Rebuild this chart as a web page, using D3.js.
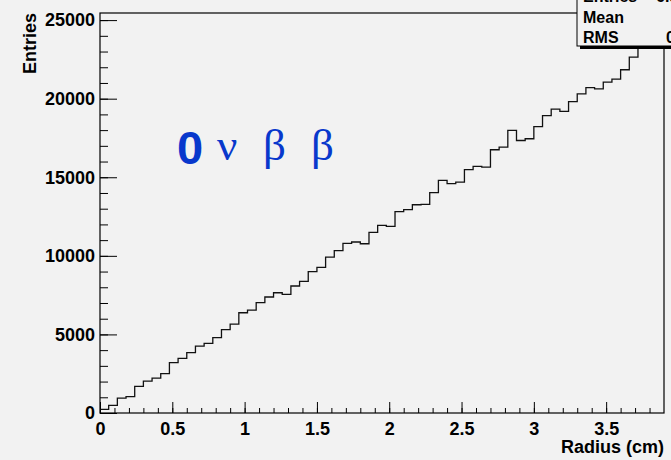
<!DOCTYPE html>
<html>
<head>
<meta charset="utf-8">
<script src="https://cdn.jsdelivr.net/npm/d3@7"></script>
<style>
  html, body { margin: 0; padding: 0; background: #f2f2f2; }
  svg { display: block; }
  text { font-family: "Liberation Sans", Arial, sans-serif; font-weight: bold; }
</style>
</head>
<body>
<div id="chart"></div>
<script>
// histogram of event radius, 65 bins of 0.06 cm from 0 to 3.9
const binLow = 0;
const binWidth = 0.06;
const counts = [
  230, 490, 950, 1040, 1700, 2030, 2220, 2500, 3200, 3480,
  3840, 4260, 4430, 4790, 5300, 5660, 6380, 6550, 7020, 7380,
  7650, 7550, 8080, 8380, 8990, 9270, 9920, 10330, 10790, 10880,
  10770, 11490, 11940, 11870, 12810, 12940, 13250, 13270, 14020, 14800,
  14590, 14690, 15480, 15690, 15650, 16750, 16920, 17980, 17340, 17450,
  18220, 18920, 19330, 19190, 19810, 20310, 20700, 20630, 21050, 21240,
  21840, 22640, 23200, 23700, 24240
];
const xTicks = [0, 0.5, 1, 1.5, 2, 2.5, 3, 3.5];
const yTicks = [0, 5000, 10000, 15000, 20000, 25000];
const statLabels = ["Entries", "Mean", "RMS"];
const statValues = ["6.5e+05", "2.589", "0.9127"];
const xTitle = "Radius (cm)";
const yTitle = "Entries";

const width = 671, height = 460;
const mLeft = 100, mRight = 664, mTop = 13, mBottom = 413;

const svg = d3.select("#chart").append("svg")
  .attr("width", width)
  .attr("height", height);

svg.append("rect").attr("width", width).attr("height", height).attr("fill", "#f2f2f2");

let xMax = binLow + counts.length * binWidth;
let yMax = d3.max(counts) * 1.05;

let x = d3.scaleLinear().domain([binLow, xMax]).range([mLeft, mRight]);
let y = d3.scaleLinear().domain([0, yMax]).range([mBottom, mTop]);

// minor ticks
svg.append("g")
  .attr("transform", "translate(0," + mBottom + ")")
  .call(d3.axisBottom(x).tickValues(d3.range(0, 39).map(i => i / 10)).tickSize(-5).tickFormat(""))
  .call(g => g.select(".domain").remove());
svg.append("g")
  .attr("transform", "translate(" + mLeft + ",0)")
  .call(d3.axisLeft(y).tickValues(d3.range(0, 26).map(i => i * 1000)).tickSize(-8).tickFormat(""))
  .call(g => g.select(".domain").remove());

// major ticks + labels
let xAxis = svg.append("g")
  .attr("transform", "translate(0," + mBottom + ")")
  .call(d3.axisBottom(x).tickValues(xTicks).tickSize(-11).tickPadding(9).tickFormat(d => String(d)));
xAxis.select(".domain").remove();
let yAxis = svg.append("g")
  .attr("transform", "translate(" + mLeft + ",0)")
  .call(d3.axisLeft(y).tickValues(yTicks).tickSize(-17).tickPadding(5).tickFormat(d3.format("d")));
yAxis.select(".domain").remove();

svg.selectAll(".tick line").attr("stroke", "#000");
svg.selectAll(".tick text")
  .attr("fill", "#000")
  .style("font-family", "'Liberation Sans', Arial, sans-serif")
  .style("font-weight", "bold")
  .style("font-size", "18px");

// histogram outline
let pts = [];
counts.forEach((c, i) => {
  pts.push([x(binLow + i * binWidth), y(c)]);
  pts.push([x(binLow + (i + 1) * binWidth), y(c)]);
});
svg.append("path")
  .attr("d", d3.line()(pts))
  .attr("fill", "none")
  .attr("stroke", "#111")
  .attr("stroke-width", 1.3);

// frame
svg.append("rect")
  .attr("x", mLeft).attr("y", mTop)
  .attr("width", mRight - mLeft).attr("height", mBottom - mTop)
  .attr("fill", "none")
  .attr("stroke", "#000")
  .attr("stroke-width", 1.2);

// axis titles
svg.append("text")
  .attr("x", mRight).attr("y", 453)
  .attr("text-anchor", "end")
  .style("font-size", "18px")
  .text(xTitle);
svg.append("text")
  .attr("transform", "translate(36,13) rotate(-90)")
  .attr("text-anchor", "end")
  .style("font-size", "18px")
  .text(yTitle);

// 0 nu beta beta label
let ann = svg.append("text").attr("fill", "#0838cc");
ann.append("tspan").attr("x", 177).attr("y", 164)
  .style("font-size", "47px").style("font-weight", "bold").text("0");
[["ν", 217], ["β", 263], ["β", 311]].forEach(d => {
  ann.append("tspan").attr("x", d[1]).attr("y", 160)
    .style("font-family", "'Liberation Serif', 'Times New Roman', serif")
    .style("font-weight", "normal")
    .style("font-size", "45px")
    .text(d[0]);
});

// stats box
let box = svg.append("g");
box.append("rect").attr("x", 580).attr("y", -20).attr("width", 120).attr("height", 69).attr("fill", "#000");
box.append("rect").attr("x", 577).attr("y", -22).attr("width", 120).attr("height", 68)
  .attr("fill", "#f2f2f2").attr("stroke", "#000").attr("stroke-width", 1);
statLabels.forEach((s, i) => {
  box.append("text").attr("x", 583).attr("y", 2 + i * 20.7).style("font-size", "16px").text(s);
});
let valX = [656, 673, 666];
statValues.forEach((s, i) => {
  box.append("text").attr("x", valX[i]).attr("y", 2 + i * 20.7).style("font-size", "16px").text(s);
});
</script>
</body>
</html>
